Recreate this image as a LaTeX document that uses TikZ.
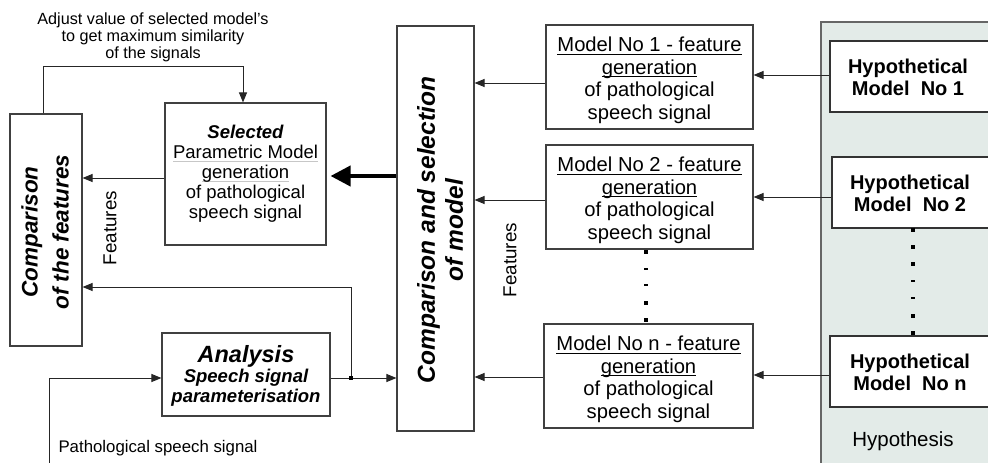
\documentclass[tikz,border=0pt]{standalone}
\usepackage{fontspec}
\setmainfont{Liberation Sans}
\usetikzlibrary{arrows.meta}

\definecolor{hypfill}{HTML}{E3EBE8}
\definecolor{edge}{HTML}{404040}

% underlines drawn as rules under the text
\newcommand\ulblack[1]{\setbox0\hbox{#1}\leavevmode\rlap{\rule[-3pt]{\wd0}{1.2pt}}\box0}
\newcommand\ulgrey[1]{\setbox0\hbox{#1}\leavevmode\rlap{\color{black!22}\rule[-3pt]{\wd0}{1.2pt}}\box0}

\tikzset{
  box/.style={draw=edge, line width=1.1pt, fill=white, inner sep=0pt},
  hypbox/.style={draw=black!80, line width=1.1pt, fill=white, inner sep=0pt},
  mtext/.style={align=center, inner sep=0pt, font=\fontsize{20.2}{22.5}\selectfont},
  stext/.style={align=center, inner sep=0pt, font=\fontsize{18.5}{20}\selectfont},
  htext/.style={align=center, inner sep=0pt, font=\fontsize{20}{22}\selectfont\bfseries},
  plain/.style={inner sep=0pt, font=\fontsize{18.8}{20}\selectfont},
  arr/.style={draw=black!85, line width=1pt, -{Triangle[length=10pt,width=8pt]}},
  ln/.style={draw=black!85, line width=1pt},
}

\begin{document}
\begin{tikzpicture}[x=1pt, y=-1pt]
\useasboundingbox (0,0) rectangle (988,463);

% hypothesis panel
\fill[hypfill] (821,22) rectangle (1000,475);
\draw[draw=black!60, line width=1.1pt] (821,475) -- (821,22) -- (1000,22);

% hypothetical models
\node[hypbox, minimum width=170pt, minimum height=71pt] (h1) at (915,76.5) {};
\node[htext] (h1t) at (908,77) {Hypothetical\\Model\ \ No 1};
\node[hypbox, minimum width=168pt, minimum height=71pt] (h2) at (916,192.5) {};
\node[htext] (h2t) at (910,193) {Hypothetical\\Model\ \ No 2};
\node[hypbox, minimum width=170pt, minimum height=71pt] (hn) at (915,371.5) {};
\node[htext] (hnt) at (910,372) {Hypothetical\\Model\ \ No n};
\node[plain, font=\fontsize{20.5}{22}\selectfont] (hyp) at (903,441) {Hypothesis};

% dots between hypothetical models
\foreach \yy in {230,247,264,316,333} \fill (911,\yy-2) rectangle (915,\yy+2);
\foreach \yy in {281,298} \fill (911,\yy-1) rectangle (915,\yy+1);

% feature generation models
\node[box, minimum width=207pt, minimum height=104pt] (m1) at (649.5,77) {};
\node[mtext, yshift=-3.5pt] (m1t) at (m1.center) {\ulblack{Model No 1 - feature}\\\ulblack{generation}\\of pathological\\speech signal};
\node[box, minimum width=207pt, minimum height=104pt] (m2) at (649.5,197) {};
\node[mtext, yshift=-3.5pt] (m2t) at (m2.center) {\ulblack{Model No 2 - feature}\\\ulblack{generation}\\of pathological\\speech signal};
\node[box, minimum width=209pt, minimum height=104pt] (mn) at (648.5,376) {};
\node[mtext, yshift=-3.5pt] (mnt) at (mn.center) {\ulblack{Model No n - feature}\\\ulblack{generation}\\of pathological\\speech signal};

% dots between models
\foreach \yy in {252,303,320} \fill (644,\yy-2) rectangle (648,\yy+2);
\foreach \yy in {269,285} \fill (644,\yy-1) rectangle (648,\yy+1);

% comparison and selection
\node[box, minimum width=77pt, minimum height=405pt] (comp) at (435.5,228.5) {};
\node[align=center, inner sep=0pt, rotate=90, font=\fontsize{24.5}{28}\selectfont\bfseries\itshape] (compt) at (440,230) {Comparison and selection\\of model};
\node[plain, rotate=90] (featR) at (510,260) {Features};

% selected model
\node[box, minimum width=161pt, minimum height=142pt] (sel) at (245.5,174) {};
\node[stext] (selt) at (sel.center) {{\bfseries\itshape Selected}\\\ulgrey{Parametric Model}\\\ulgrey{generation}\\of pathological\\speech signal};

% comparison of the features
\node[box, minimum width=72pt, minimum height=232pt] (feat) at (46,230) {};
\node[align=center, inner sep=0pt, rotate=90, font=\fontsize{22.5}{31}\selectfont\bfseries\itshape] (featt) at (45,232) {Comparison\\of the features};
\node[plain, rotate=90] (featL) at (110,228) {Features};

% analysis
\node[box, minimum width=168pt, minimum height=83pt] (ana) at (246,374.5) {};
\node[align=center, inner sep=0pt, font=\fontsize{18.5}{20}\selectfont\bfseries\itshape] (anat) at (246,376) {{\fontsize{23.5}{20}\selectfont Analysis}\\Speech signal\\parameterisation};

% free texts
\node[align=center, inner sep=0pt, font=\fontsize{16.2}{17.3}\selectfont] (adj) at (153,37.5) {Adjust value of selected model's\\to get maximum similarity\\of the signals};
\node[plain, font=\fontsize{16.8}{20}\selectfont] (src) at (158,448) {Pathological speech signal};

% connectors: hypotheses to models
\coordinate (y1) at (0,75);
\coordinate (y2) at (0,197);
\coordinate (yn) at (0,375);
\draw[arr] (h1.west |- y1) -- (m1.east |- y1);
\draw[arr] (h2.west |- y2) -- (m2.east |- y2);
\draw[arr] (hn.west |- yn) -- (mn.east |- yn);

% models to comparison
\coordinate (z1) at (0,83);
\coordinate (z2) at (0,200);
\coordinate (zn) at (0,377);
\draw[arr] (m1.west |- z1) -- (comp.east |- z1);
\draw[arr] (m2.west |- z2) -- (comp.east |- z2);
\draw[arr] (mn.west |- zn) -- (comp.east |- zn);

% selection of a model
\coordinate (ys) at (0,176);
\draw[line width=4pt, -{Triangle[length=20pt,width=20pt]}, shorten >=4pt] (comp.west |- ys) -- (sel.east |- ys);

% selected model features to comparison
\coordinate (yf) at (0,178);
\draw[arr] (sel.west |- yf) -- (feat.east |- yf);

% adjustment loop
\draw[arr] ([xshift=-3pt]feat.north) -- ++(0,-47) -| ([xshift=-2.5pt]sel.north);

% speech signal path
\coordinate (inp) at (49,463);
\coordinate (ya) at (0,378);
\coordinate (jn) at (351,378);
\coordinate (yb) at (0,287);
\draw[arr] (inp) |- (ana.west |- ya);
\draw[ln] (ana.east |- ya) -- (jn);
\draw[arr] (jn) -- (comp.west |- jn);
\draw[arr] (jn) -- (jn |- yb) -- (feat.east |- yb);
\fill (jn) +(-2,-2) rectangle +(2,2);
\end{tikzpicture}
\end{document}
